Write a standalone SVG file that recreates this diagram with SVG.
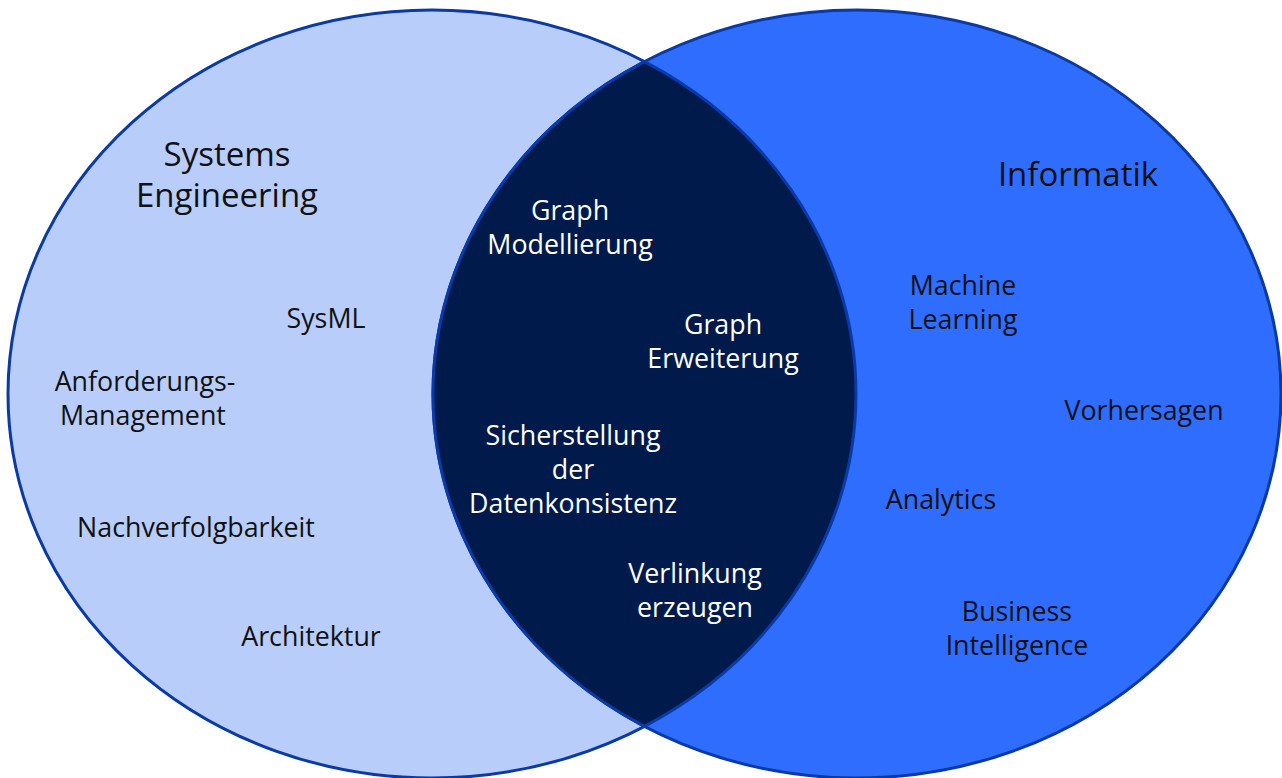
<svg xmlns="http://www.w3.org/2000/svg" width="1282" height="778" viewBox="0 0 1282 778">
<style>
.ring{stroke:#0a3aa6;stroke-width:3}
.t{font-family:"Open Sans","Noto Sans","Liberation Sans",sans-serif;font-size:26.8px;text-anchor:middle;fill:#111}
.w{fill:#ffffff}
.big{font-size:33px}
</style>
<rect width="1282" height="778" fill="#ffffff"/>
<g id="systems-engineering">
<ellipse class="ring" cx="432" cy="394" rx="424" ry="384" fill="#b9cdfb"/>
</g>
<g id="informatik">
<ellipse class="ring" cx="857" cy="394" rx="424" ry="384" fill="#2f6dff"/>
</g>
<g id="overlap">
<path class="ring" d="M644.5 61.7 A424 384 0 0 1 644.5 726.3 A424 384 0 0 1 644.5 61.7 Z" fill="#001a4b"/>
</g>
<g id="connectors"></g>
<g id="labels-left">
<text class="t big" x="227" y="166">Systems</text>
<text class="t big" x="227" y="207">Engineering</text>
<text class="t" x="326" y="328">SysML</text>
<text class="t" x="145" y="391">Anforderungs-</text>
<text class="t" x="143" y="425">Management</text>
<text class="t" x="196" y="537">Nachverfolgbarkeit</text>
<text class="t" x="311" y="646">Architektur</text>
</g>
<g id="labels-overlap">
<text class="t w" x="570" y="220">Graph</text>
<text class="t w" x="570" y="254">Modellierung</text>
<text class="t w" x="723" y="334">Graph</text>
<text class="t w" x="723" y="368">Erweiterung</text>
<text class="t w" x="573" y="445">Sicherstellung</text>
<text class="t w" x="573" y="479">der</text>
<text class="t w" x="573" y="513">Datenkonsistenz</text>
<text class="t w" x="695" y="583">Verlinkung</text>
<text class="t w" x="695" y="617">erzeugen</text>
</g>
<g id="labels-right">
<text class="t big" x="1078" y="186">Informatik</text>
<text class="t" x="963" y="295">Machine</text>
<text class="t" x="963" y="329">Learning</text>
<text class="t" x="1144" y="420">Vorhersagen</text>
<text class="t" x="941" y="509">Analytics</text>
<text class="t" x="1017" y="621">Business</text>
<text class="t" x="1017" y="655">Intelligence</text>
</g>
</svg>
